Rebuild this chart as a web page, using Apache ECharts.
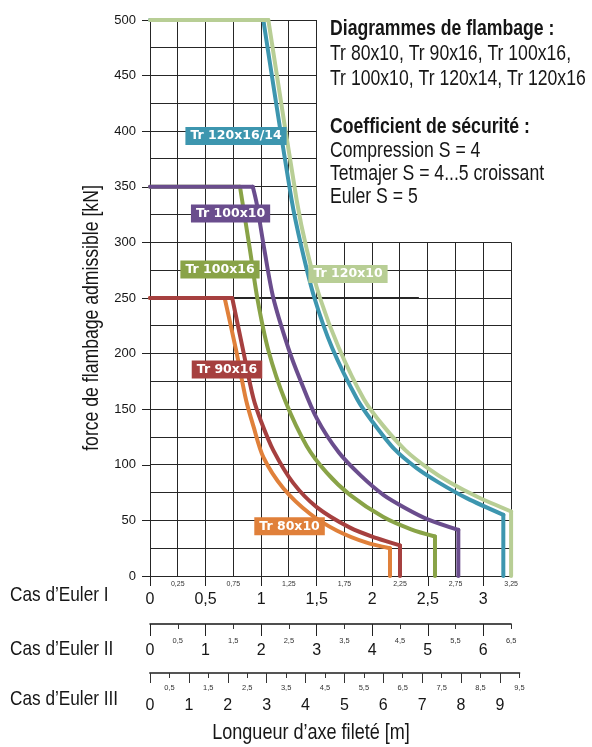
<!DOCTYPE html>
<html><head><meta charset="utf-8">
<script src="https://cdn.jsdelivr.net/npm/echarts@6/dist/echarts.min.js"></script>
<style>html,body{margin:0;padding:0;background:#fff}#c{width:592px;height:747px}</style>
</head><body><div id="c"></div>
<script>
// ---------- data ----------
const yTicks = [0, 50, 100, 150, 200, 250, 300, 350, 400, 450, 500];
const eulerIMajor = [0, 0.5, 1, 1.5, 2, 2.5, 3];
const eulerIMinor = [0.25, 0.75, 1.25, 1.75, 2.25, 2.75, 3.25];
const eulerIIMajor = [0, 1, 2, 3, 4, 5, 6];
const eulerIIMinor = [0.5, 1.5, 2.5, 3.5, 4.5, 5.5, 6.5];
const eulerIIIMajor = [0, 1, 2, 3, 4, 5, 6, 7, 8, 9];
const eulerIIIMinor = [0.5, 1.5, 2.5, 3.5, 4.5, 5.5, 6.5, 7.5, 8.5, 9.5];
const curveNames = ['Tr 80x10', 'Tr 90x16', 'Tr 100x16', 'Tr 100x10', 'Tr 120x16/14', 'Tr 120x10'];

// [longueur (m, cas d'Euler I), force admissible (kN)]
const tr80x10 = [[0,250],[0.672,250],[0.775,203],[0.865,158],[0.93,135],[1.02,107],[1.2,79],[1.44,56],[1.68,41],[1.95,30],[2.16,25],[2.16,0]];
const tr90x16 = [[0,250],[0.74,250],[0.84,202],[0.93,160],[1.0,139],[1.11,113],[1.29,83.5],[1.5,62],[1.8,43.5],[2.04,34],[2.25,27.5],[2.25,0]];
const tr100x16 = [[0,350],[0.81,350],[0.9,293],[0.969,248],[1.065,203],[1.215,158],[1.41,117],[1.59,93],[1.8,73],[2.1,53],[2.35,42],[2.565,35.5],[2.565,0]];
const tr100x10 = [[0,350],[0.925,350],[0.96,335],[1.03,293],[1.11,250],[1.245,205],[1.35,177],[1.5,142],[1.7,111],[1.9,90],[2.1,73],[2.3,61],[2.5,51],[2.775,41.5],[2.775,0]];
const tr120x16 = [[0,500],[1.02,500],[1.275,338],[1.365,295],[1.48,250],[1.64,205],[1.865,159],[2.0,139],[2.2,114],[2.4,97],[2.6,84],[2.85,70],[3.18,55],[3.18,0]];
const tr120x10 = [[0,500],[1.065,500],[1.32,338],[1.41,294],[1.53,250],[1.7,205],[1.925,159],[2.1,135],[2.3,113],[2.5,97],[2.7,84],[2.95,71],[3.25,58],[3.25,0]];

// ---------- styles ----------
const SANS = "'Liberation Sans',Arial,sans-serif";
const BOX = "'DejaVu Sans',sans-serif";
const NARROW_X = 0.82;
const curveColors = ['#E0803A', '#A6403F', '#89A347', '#6A4D8D', '#3D96AF', '#B8CE95'];
const curveData = [tr80x10, tr90x16, tr100x16, tr100x10, tr120x16, tr120x10];
const labelAnchor = [[1.256, 44.7], [0.693, 185.7], [0.63, 275.6], [0.725, 326], [0.774, 395.7], [1.782, 271.6]];
const comma = v => String(v).replace('.', ',');

// grid line segments (structure of the printed chart grid)
const gridSeg = [];
for (let i = 0; i <= 13; i++) { const x = i * 0.25; gridSeg.push([x, 0, x, x <= 1.5 ? 500 : 300, 1]); }
for (let j = 0; j <= 20; j++) { const y = j * 25; gridSeg.push([0, y, y <= 300 ? 3.25 : 1.5, y, 1]); }
gridSeg.push([0, 250, 2.42, 250, 2]);

const series = [];
series.push({
  type: 'custom', xAxisIndex: 0, yAxisIndex: 0, z: 1, silent: true, clip: false,
  data: gridSeg,
  encode: { x: [0, 2], y: [1, 3] },
  renderItem: (params, api) => {
    const p1 = api.coord([api.value(0), api.value(1)]);
    const p2 = api.coord([api.value(2), api.value(3)]);
    const w = api.value(4);
    const f = v => w === 1 ? Math.floor(v) + 0.5 : Math.round(v);
    let x1 = p1[0], y1 = p1[1], x2 = p2[0], y2 = p2[1];
    if (x1 === x2) { x1 = x2 = f(x1); } else { y1 = y2 = f(y1); }
    return { type: 'line', shape: { x1, y1, x2, y2 }, style: { stroke: '#262626', lineWidth: w } };
  }
});

curveData.forEach((pts, k) => {
  const ls = { color: curveColors[k], width: 4, cap: 'round', join: 'round' };
  const base = { type: 'line', xAxisIndex: 0, yAxisIndex: 0, showSymbol: false, symbol: 'none', silent: true, z: 3, lineStyle: ls, animation: false };
  series.push(Object.assign({}, base, { name: curveNames[k], data: pts.slice(1, pts.length - 1), smooth: 0.3 }));
  series.push(Object.assign({}, base, { data: pts.slice(0, 2) }));
  series.push(Object.assign({}, base, { data: pts.slice(pts.length - 2) }));
});

series.push({
  type: 'scatter', xAxisIndex: 0, yAxisIndex: 0, z: 10, symbolSize: 0, silent: true,
  itemStyle: { opacity: 1 },
  data: curveNames.map((n, k) => ({
    value: labelAnchor[k], name: n,
    label: { backgroundColor: curveColors[k] }
  })),
  label: {
    show: true, position: 'inside', formatter: p => p.name, opacity: 1,
    color: '#fff', fontFamily: BOX, fontWeight: 'bold', fontSize: 12.5,
    lineHeight: 14, padding: [2, 5, 2, 5]
  }
});

const txt = (x, y, text, size, opts, bold) => ({
  type: 'text', x, y, scaleX: NARROW_X, silent: true,
  style: Object.assign({ text, fill: '#161616', font: (bold ? 'bold ' : '') + size + 'px ' + SANS, textAlign: 'left', verticalAlign: 'middle' }, opts || {})
});

const tickFont = { fontFamily: SANS, color: '#161616' };
const option = {
  animation: false,
  backgroundColor: '#fff',
  grid: [
    { left: 150, top: 20, width: 361.1, height: 556 },
    { left: 150, top: 623, width: 361.1, height: 1 },
    { left: 150, top: 672, width: 369.4, height: 1 }
  ],
  xAxis: [
    { gridIndex: 0, type: 'value', min: 0, max: 3.25, position: 'bottom', splitLine: { show: false },
      axisLine: { show: false },
      axisTick: { show: true, customValues: eulerIMajor, length: 10, lineStyle: { color: '#222', width: 1 } },
      axisLabel: Object.assign({ customValues: eulerIMajor, formatter: comma, fontSize: 16, margin: 16 }, tickFont) },
    { gridIndex: 0, type: 'value', min: 0, max: 3.25, position: 'bottom', splitLine: { show: false },
      axisLine: { show: false }, axisTick: { show: false },
      axisLabel: Object.assign({ customValues: eulerIMinor, formatter: comma, fontSize: 7, margin: 5 }, tickFont, { color: '#333' }) },
    { gridIndex: 1, type: 'value', min: 0, max: 6.5, position: 'bottom', splitLine: { show: false },
      axisLine: { show: true, lineStyle: { color: '#161616', width: 1.5 } },
      axisTick: { show: true, customValues: eulerIIMajor, length: 12, lineStyle: { color: '#222', width: 1 } },
      axisLabel: Object.assign({ customValues: eulerIIMajor, formatter: comma, fontSize: 16, margin: 19 }, tickFont) },
    { gridIndex: 1, type: 'value', min: 0, max: 6.5, position: 'bottom', splitLine: { show: false },
      axisLine: { show: false },
      axisTick: { show: true, customValues: eulerIIMinor, length: 5, lineStyle: { color: '#333', width: 1 } },
      axisLabel: Object.assign({ customValues: eulerIIMinor, formatter: comma, fontSize: 7.5, margin: 13 }, tickFont, { color: '#333' }) },
    { gridIndex: 2, type: 'value', min: 0, max: 9.5, position: 'bottom', splitLine: { show: false },
      axisLine: { show: true, lineStyle: { color: '#555', width: 2 } },
      axisTick: { show: true, customValues: eulerIIIMajor, length: 10, lineStyle: { color: '#333', width: 1 } },
      axisLabel: Object.assign({ customValues: eulerIIIMajor, formatter: comma, fontSize: 16, margin: 25 }, tickFont) },
    { gridIndex: 2, type: 'value', min: 0, max: 9.5, position: 'bottom', splitLine: { show: false },
      axisLine: { show: false },
      axisTick: { show: true, customValues: eulerIIIMinor, length: 5, lineStyle: { color: '#333', width: 1 } },
      axisLabel: Object.assign({ customValues: eulerIIIMinor, formatter: comma, fontSize: 7.5, margin: 11 }, tickFont, { color: '#333' }) }
  ],
  yAxis: [
    { gridIndex: 0, type: 'value', min: 0, max: 500, interval: 50, splitLine: { show: false },
      axisLine: { show: false },
      axisTick: { show: true, customValues: yTicks, length: 8, lineStyle: { color: '#222', width: 1 } },
      axisLabel: Object.assign({ customValues: yTicks, fontSize: 13, margin: 14 }, tickFont) },
    { gridIndex: 1, type: 'value', min: 0, max: 1, show: false },
    { gridIndex: 2, type: 'value', min: 0, max: 1, show: false }
  ],
  graphic: [
    txt(330, 29, 'Diagrammes de flambage :', 21.5, null, true),
    txt(330, 54, 'Tr 80x10, Tr 90x16, Tr 100x16,', 21.5),
    txt(330, 79, 'Tr 100x10, Tr 120x14, Tr 120x16', 21.5),
    txt(330, 127.5, 'Coefficient de sécurité :', 21.5, null, true),
    txt(330, 151, 'Compression S = 4', 21.5),
    txt(330, 174, 'Tetmajer S = 4...5 croissant', 21.5),
    txt(330, 197.5, 'Euler S = 5', 21.5),
    txt(10, 595, 'Cas d\u2019Euler I', 21),
    txt(10, 649, 'Cas d\u2019Euler II', 21),
    txt(10, 699.5, 'Cas d\u2019Euler III', 21),
    txt(311, 732.5, 'Longueur d\u2019axe filet\u00e9 [m]', 22, { textAlign: 'center' }),
    Object.assign(txt(92, 318, 'force de flambage admissible [kN]', 21.5, { textAlign: 'center' }), { rotation: Math.PI / 2 })
  ],
  series
};

const chart = echarts.init(document.getElementById('c'), null, { renderer: 'canvas' });
chart.setOption(option);
</script>
</body></html>
